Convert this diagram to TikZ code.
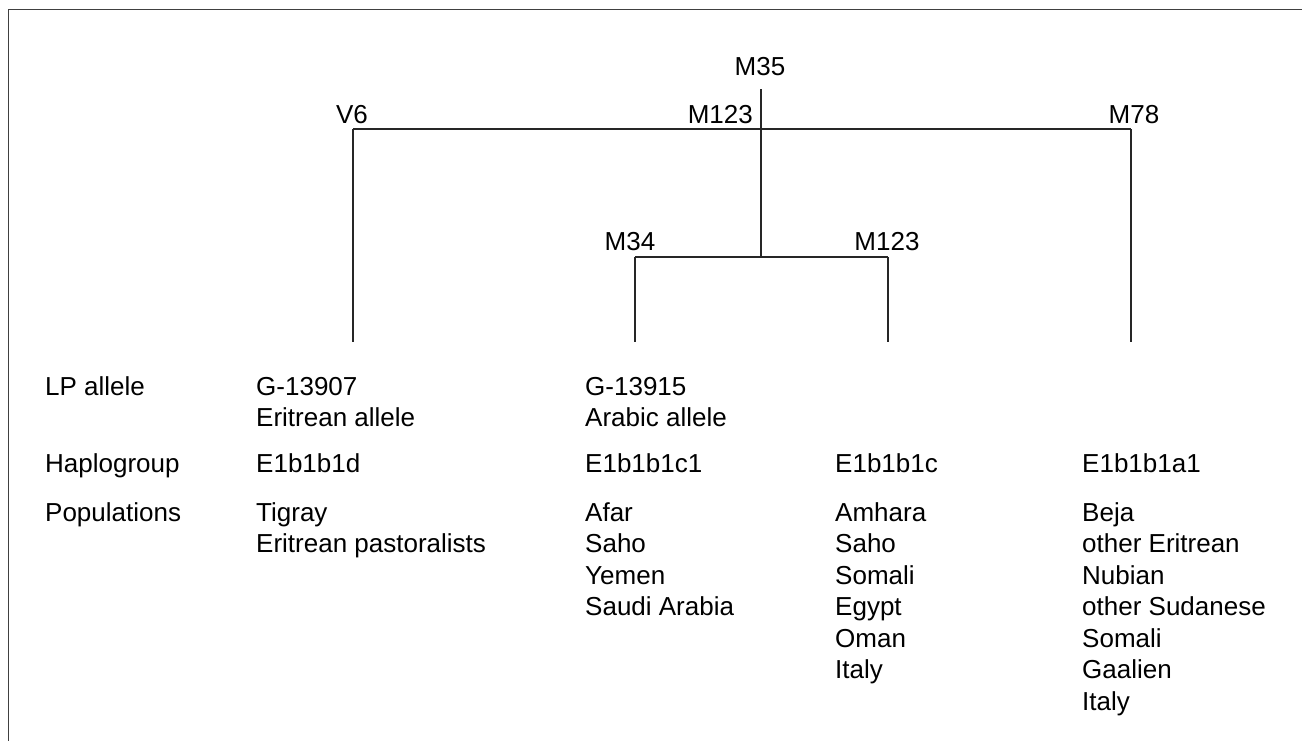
\documentclass[tikz,border=0pt]{standalone}
\usepackage{fontspec}
\setmainfont{Liberation Sans}
\begin{document}
\begin{tikzpicture}[x=1pt,y=-1pt,
  lbl/.style={inner sep=0pt, font=\fontsize{26}{31.5}\selectfont, anchor=base west},
  tlbl/.style={inner sep=0pt, font=\fontsize{26}{31.5}\selectfont, anchor=base},
  tlblr/.style={inner sep=0pt, font=\fontsize{26}{31.5}\selectfont, anchor=base east},
  branch/.style={line width=1.2pt, draw=black!85},
  frame/.style={line width=1.5pt, draw=black!75}]
\useasboundingbox (0,0) rectangle (1302,740);
\begin{scope}
  \clip (0,0) rectangle (1302,740);
  \draw[frame] (8.5,9.5) rectangle (1330,760);
\end{scope}

% tree junctions
\coordinate (root) at (761,89);
\coordinate (top) at (761,129);
\coordinate (tl) at (353,129);
\coordinate (tr) at (1131,129);
\coordinate (mid) at (761,257);
\coordinate (ml) at (635,257);
\coordinate (mr) at (888,257);
\coordinate (endV6) at (353,342);
\coordinate (endM78) at (1131,342);
\coordinate (endM34) at (635,342);
\coordinate (endM123) at (888,342);

\draw[branch] (root) -- (mid);
\draw[branch] (tl) -- (tr);
\draw[branch] (tl) -- (endV6);
\draw[branch] (tr) -- (endM78);
\draw[branch] (ml) -- (mr);
\draw[branch] (ml) -- (endM34);
\draw[branch] (mr) -- (endM123);

% tree labels
\node[tlbl] (lM35) at (760,75) {M35};
\node[tlblr] (lM123a) at (753,123) {M123};
\node[tlbl] (lV6) at (352,123) {V6};
\node[tlbl] (lM78) at (1134,123) {M78};
\node[tlbl] (lM34) at (630,250) {M34};
\node[tlbl] (lM123b) at (887,250) {M123};

% row labels
\node[lbl] (hLP) at (45,395) {LP allele};
\node[lbl] (hHap) at (45,472) {Haplogroup};
\node[lbl] (hPop) at (45,521) {Populations};

% column 1
\node[lbl] (a1) at (256,395) {G-13907};
\node[lbl] (a2) at (256,426) {Eritrean allele};
\node[lbl] (ah) at (256,472) {E1b1b1d};
\node[lbl] (ap1) at (256,521) {Tigray};
\node[lbl] (ap2) at (256,552.5) {Eritrean pastoralists};

% column 2
\node[lbl] (b1) at (585,395) {G-13915};
\node[lbl] (b2) at (585,426) {Arabic allele};
\node[lbl] (bh) at (585,472) {E1b1b1c1};
\node[lbl] (bp1) at (585,521) {Afar};
\node[lbl] (bp2) at (585,552.5) {Saho};
\node[lbl] (bp3) at (585,584) {Yemen};
\node[lbl] (bp4) at (585,615.5) {Saudi Arabia};

% column 3
\node[lbl] (ch) at (835,472) {E1b1b1c};
\node[lbl] (cp1) at (835,521) {Amhara};
\node[lbl] (cp2) at (835,552.5) {Saho};
\node[lbl] (cp3) at (835,584) {Somali};
\node[lbl] (cp4) at (835,615.5) {Egypt};
\node[lbl] (cp5) at (835,647) {Oman};
\node[lbl] (cp6) at (835,678.5) {Italy};

% column 4
\node[lbl] (dh) at (1082,472) {E1b1b1a1};
\node[lbl] (dp1) at (1082,521) {Beja};
\node[lbl] (dp2) at (1082,552.5) {other Eritrean};
\node[lbl] (dp3) at (1082,584) {Nubian};
\node[lbl] (dp4) at (1082,615.5) {other Sudanese};
\node[lbl] (dp5) at (1082,647) {Somali};
\node[lbl] (dp6) at (1082,678.5) {Gaalien};
\node[lbl] (dp7) at (1082,710) {Italy};
\end{tikzpicture}
\end{document}
